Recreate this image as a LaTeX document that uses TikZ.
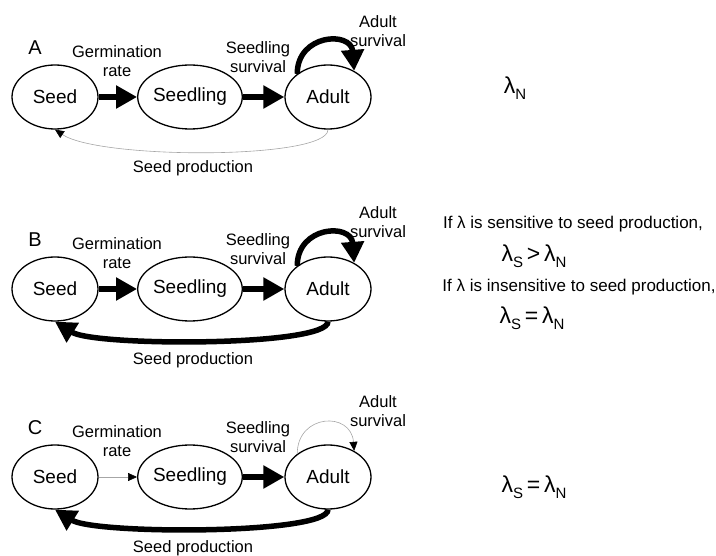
\documentclass[tikz,border=0pt]{standalone}
\usepackage{fontspec}
\setmainfont{Liberation Sans}
\usetikzlibrary{shapes.geometric,arrows.meta}
\newcommand\lamsub[1]{λ\raisebox{-6pt}{\fontsize{15}{15}\selectfont #1}}
\tikzset{
  stage/.style={ellipse, draw, line width=1.3pt, minimum width=86pt, minimum height=64pt, inner sep=0pt, font=\fontsize{19}{19}\selectfont},
  lab/.style={font=\fontsize{16.5}{19.5}\selectfont, align=center, inner sep=0pt},
  panellab/.style={font=\fontsize{20}{20}\selectfont, inner sep=0pt},
  rtext/.style={font=\fontsize{17}{17}\selectfont, inner sep=0pt},
  lamtext/.style={font=\fontsize{23}{23}\selectfont, inner sep=0pt},
  thickarr/.style={line width=5.5pt, -{Triangle[length=21pt,width=22pt]}},
  thinarr/.style={line width=0.6pt, draw=gray!70, -{Triangle[length=9pt,width=8pt,color=black,fill=black]}},
}
\begin{document}
\begin{tikzpicture}[x=1pt,y=-1pt]
\useasboundingbox (0,0) rectangle (716,556);
% ---------- Panel A ----------
\node[panellab] (pA) at (35,48) {A};
\node[stage] (sdA) at (55,97) {Seed};
\node[stage] (slA) at (190,97) {Seedling};
\node[stage] (adA) at (328,97) {Adult};
\node[lab] (gA) at (117,61) {Germination\\rate};
\node[lab] (ssA) at (258,57) {Seedling\\survival};
\node[lab] (asA) at (378,31) {Adult\\survival};
\node[lab] (spA) at (193,168) {Seed production};
\draw[thickarr] (sdA) -- (slA);
\draw[thickarr] (slA) -- (adA);
\draw[thickarr] (adA.143) .. controls +(0,-40) and +(-3,-40) .. (adA.45);
\draw[thinarr] (adA.south) .. controls +(0,30) and +(45,30) .. (sdA.south);
\node[lamtext] (lA) at (515,88) {\lamsub{N}};
% ---------- Panel B ----------
\node[panellab] (pB) at (35,240) {B};
\node[stage] (sdB) at (55,289) {Seed};
\node[stage] (slB) at (190,289) {Seedling};
\node[stage] (adB) at (328,289) {Adult};
\node[lab] (gB) at (117,253) {Germination\\rate};
\node[lab] (ssB) at (258,249) {Seedling\\survival};
\node[lab] (asB) at (378,222) {Adult\\survival};
\node[lab] (spB) at (193,360) {Seed production};
\draw[thickarr] (sdB) -- (slB);
\draw[thickarr] (slB) -- (adB);
\draw[thickarr] (adB.143) .. controls +(0,-40) and +(-3,-40) .. (adB.45);
\draw[thickarr] (adB.south) .. controls +(0,25) and +(40,25) .. (sdB.south);
\node[rtext] (tB1) at (573,224) {If λ is sensitive to seed production,};
\node[lamtext] (lB1) at (534,256) {\lamsub{S}\,>\,\lamsub{N}};
\node[rtext] (tB2) at (579,287) {If λ is insensitive to seed production,};
\node[lamtext] (lB2) at (532,318) {\lamsub{S}\,=\,\lamsub{N}};
% ---------- Panel C ----------
\node[panellab] (pC) at (35,428) {C};
\node[stage] (sdC) at (55,477) {Seed};
\node[stage] (slC) at (190,477) {Seedling};
\node[stage] (adC) at (328,477) {Adult};
\node[lab] (gC) at (117,441) {Germination\\rate};
\node[lab] (ssC) at (258,437) {Seedling\\survival};
\node[lab] (asC) at (378,411) {Adult\\survival};
\node[lab] (spC) at (193,548) {Seed production};
\draw[thinarr] (sdC) -- (slC);
\draw[thickarr] (slC) -- (adC);
\draw[thinarr] (adC.143) .. controls +(0,-40) and +(-3,-40) .. (adC.45);
\draw[thickarr] (adC.south) .. controls +(0,25) and +(40,25) .. (sdC.south);
\node[lamtext] (lC) at (534,487) {\lamsub{S}\,=\,\lamsub{N}};
\end{tikzpicture}
\end{document}
